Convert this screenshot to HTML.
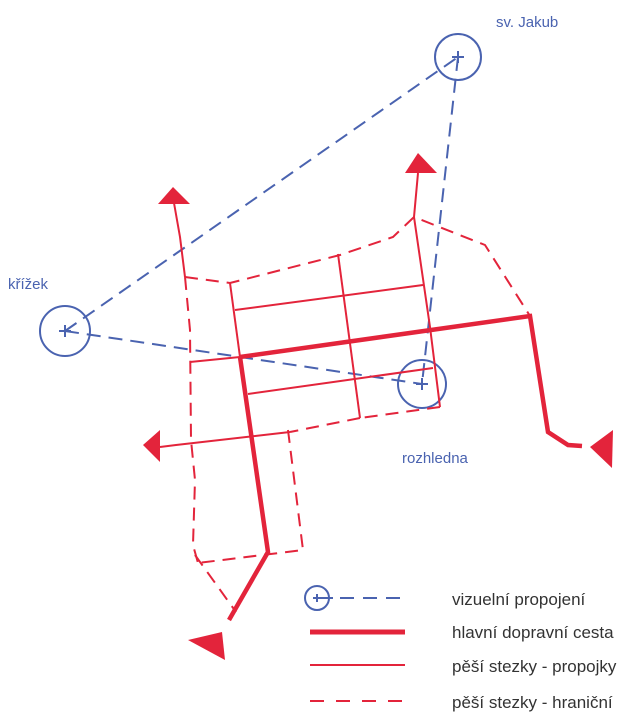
<!DOCTYPE html>
<html><head><style>
body{margin:0;background:#fff;}
svg{display:block;}
.t{font-family:"Liberation Sans",sans-serif;}
</style></head><body>
<svg width="633" height="722" viewBox="0 0 633 722" xmlns="http://www.w3.org/2000/svg">
<g stroke="#4a63b0" stroke-width="2" fill="none">
<line x1="65" y1="331" x2="458" y2="57" stroke-dasharray="14,8"/>
<line x1="65" y1="331" x2="422" y2="384" stroke-dasharray="14,8"/>
<line x1="458" y1="57" x2="422" y2="384" stroke-dasharray="14,8"/>
<circle cx="458" cy="57" r="23"/>
<circle cx="65" cy="331" r="25"/>
<circle cx="422" cy="384" r="24"/>
<path d="M452 57h12M458 51v12M59 331h12M65 325v12M416 384h12M422 378v12"/>
</g>
<g stroke="#e3243b" fill="none" stroke-width="2">
<!-- solid thin -->
<polyline points="174,203 180,237 185,277"/>
<polyline points="418,173 414,217 430,327 440,407"/>
<line x1="230" y1="283" x2="240" y2="357"/>
<line x1="235" y1="310" x2="423" y2="285"/>
<line x1="190" y1="362" x2="240" y2="357"/>
<line x1="248" y1="394" x2="433" y2="368"/>
<line x1="338" y1="254" x2="360" y2="418"/>
<polyline points="160,447 176,445 290,432"/>
<!-- dashed -->
<g stroke-dasharray="13,8">
<polyline points="185,277 230,283 340,255 393,237 414,217 485,245 530,316"/>
<polyline points="185,277 190,330 191,440 195,480 193,545 198,563"/>
<polyline points="440,407 360,418"/>
<polyline points="360,418 290,432"/>
<polyline points="288,430 303,550 198,563"/>
<polyline points="195,555 236,612"/>
</g>
<!-- main road -->
<g stroke-width="4.5">
<polyline points="240,357 530,316 548,432 568,445 582,446"/>
<polyline points="240,357 268,552 229,620"/>
</g>
</g>
<g fill="#e3243b">
<polygon points="173,187 158,204 190,204"/>
<polygon points="418,153 405,173 437,173"/>
<polygon points="143,445 160,430 160,462"/>
<polygon points="590,447 613,430 612,468"/>
<polygon points="188,640 222,632 225,660"/>
</g>
<g class="t" fill="#4a63b0" font-size="15">
<text x="496" y="27">sv. Jakub</text>
<text x="8" y="289">křížek</text>
<text x="402" y="463">rozhledna</text>
</g>
<!-- legend -->
<g stroke="#4a63b0" stroke-width="2" fill="none">
<circle cx="317" cy="598" r="12"/>
<path d="M313 598h20M317 594v8" />
<line x1="340" y1="598" x2="406" y2="598" stroke-dasharray="14,9"/>
</g>
<line x1="310" y1="632" x2="405" y2="632" stroke="#e3243b" stroke-width="5"/>
<line x1="310" y1="665" x2="405" y2="665" stroke="#e3243b" stroke-width="2"/>
<line x1="310" y1="701" x2="406" y2="701" stroke="#e3243b" stroke-width="2" stroke-dasharray="14,12"/>
<g class="t" fill="#333" font-size="17">
<text x="452" y="605">vizuelní propojení</text>
<text x="452" y="638">hlavní dopravní cesta</text>
<text x="452" y="672">pěší stezky - propojky</text>
<text x="452" y="708">pěší stezky - hraniční</text>
</g>
</svg>
</body></html>
